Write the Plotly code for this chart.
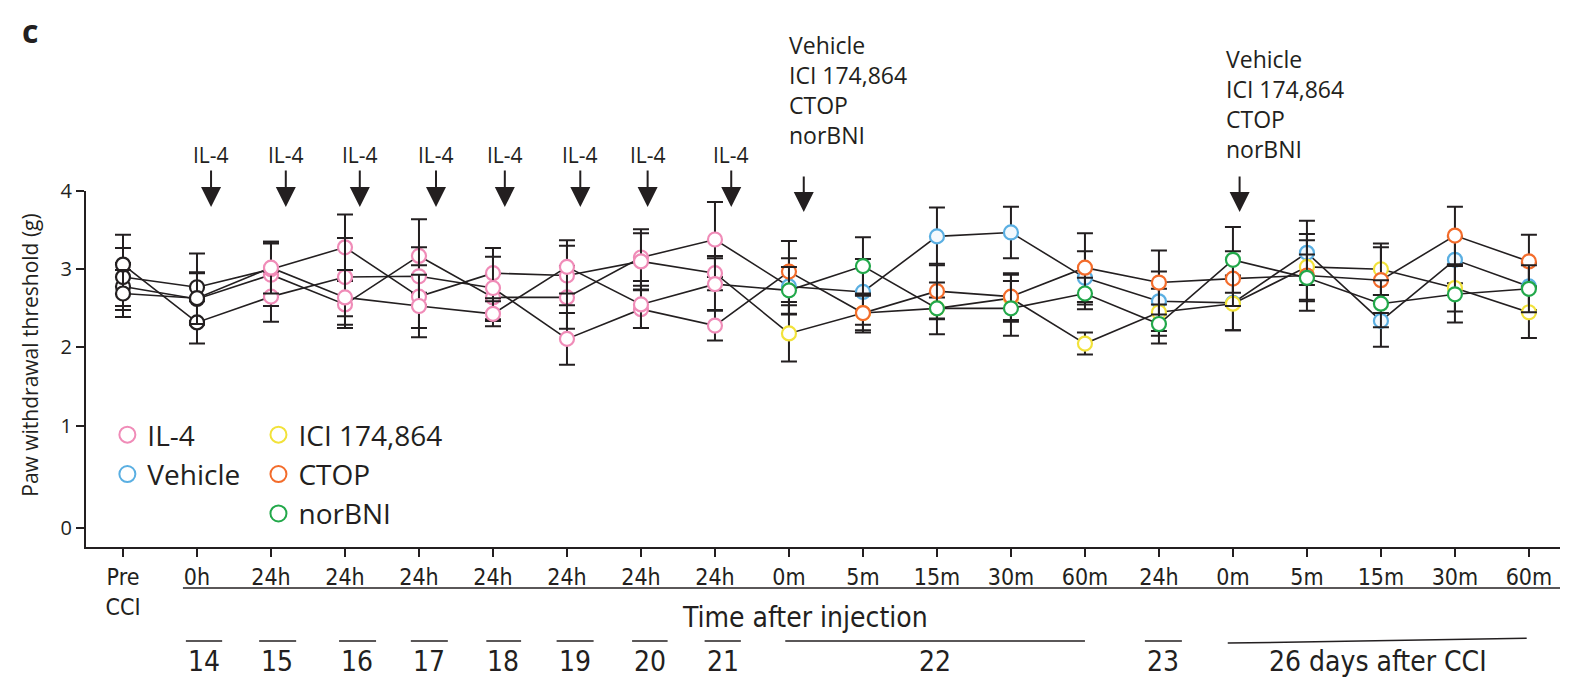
import plotly.graph_objects as go

# ---------------- data ----------------
tick_labels = ["Pre<br>CCI", "0h", "24h", "24h", "24h", "24h", "24h", "24h", "24h",
               "0m", "5m", "15m", "30m", "60m", "24h", "0m", "5m", "15m", "30m", "60m"]
# phase of each time point: baseline (black), IL-4 treatment (pink), antagonist groups (own colour)
phase = ["base", "base", "il4", "il4", "il4", "il4", "il4", "il4", "il4",
         "grp", "grp", "grp", "grp", "grp", "grp", "grp", "grp", "grp", "grp", "grp"]

vehicle = [2.78, 2.62, 2.93, 2.55, 3.17, 2.64, 2.64, 3.15, 3.38, 2.78, 2.71, 3.42, 3.47, 2.89, 2.59, 2.57, 3.21, 2.34, 3.12, 2.78]
vehicle_err = [0.30, 0.33, 0.40, 0.30, 0.47, 0.30, 0.40, 0.36, 0.48, 0.36, 0.42, 0.37, 0.33, 0.34, 0.38, 0.35, 0.41, 0.33, 0.30, 0.30]
ici = [2.90, 2.77, 3.00, 3.28, 2.65, 2.95, 2.92, 3.10, 2.95, 2.18, 2.44, 2.50, 2.63, 2.05, 2.45, 2.56, 3.03, 3.00, 2.76, 2.45]
ici_err = [0.37, 0.43, 0.35, 0.42, 0.40, 0.32, 0.38, 0.36, 0.22, 0.36, 0.22, 0.14, 0.30, 0.14, 0.30, 0.34, 0.42, 0.33, 0.30, 0.33]
ctop = [3.06, 2.32, 2.65, 2.90, 2.91, 2.76, 2.11, 2.49, 2.28, 2.97, 2.44, 2.72, 2.65, 3.02, 2.83, 2.88, 2.92, 2.86, 3.43, 3.10]
ctop_err = [0.38, 0.27, 0.32, 0.50, 0.37, 0.40, 0.33, 0.24, 0.19, 0.39, 0.25, 0.35, 0.30, 0.44, 0.41, 0.35, 0.45, 0.42, 0.37, 0.34]
norbni = [2.69, 2.63, 3.02, 2.64, 2.53, 2.43, 3.03, 2.55, 2.81, 2.73, 3.04, 2.50, 2.50, 2.69, 2.30, 3.12, 2.89, 2.56, 2.68, 2.75]
norbni_err = [0.30, 0.33, 0.33, 0.35, 0.40, 0.16, 0.34, 0.30, 0.33, 0.30, 0.37, 0.33, 0.35, 0.20, 0.25, 0.42, 0.30, 0.30, 0.36, 0.30]

y_tick_vals = [-0.31, 1, 2, 3, 4]      # axis is compressed below 1 in the original
y_tick_text = ["0", "1", "2", "3", "4"]

il4_arrow_x = [1.19, 2.20, 3.20, 4.23, 5.16, 6.18, 7.09, 8.22]
drug_arrow_x = [9.2, 15.09]
drug_text = "Vehicle<br>ICI 174,864<br>CTOP<br>norBNI"

day_labels = ["14", "15", "16", "17", "18", "19", "20", "21", "22", "23", "26 days after CCI"]
day_label_x = [1.09, 2.08, 3.16, 4.14, 5.14, 6.11, 7.12, 8.11, 10.97, 14.05, 16.96]
day_line_x0 = [0.85, 1.84, 2.92, 3.89, 4.91, 5.86, 6.88, 7.86, 8.95, 13.81, 14.93]
day_line_x1 = [1.34, 2.34, 3.42, 4.39, 5.38, 6.36, 7.36, 8.35, 13.0, 14.31, 18.97]

# ---------------- style ----------------
BLACK = "#231f20"
PINK = "#f08cb8"
COLORS = {"Vehicle": "#5aafe2", "ICI 174,864": "#f2e23a", "CTOP": "#f36c2b", "norBNI": "#22a84a"}
FILLS = {"Vehicle": "#f4f9fd", "ICI 174,864": "white", "CTOP": "white", "norBNI": "white"}
NARROW = "Liberation Sans Narrow, DejaVu Sans Condensed, Open Sans, sans-serif"
SANS = "Open Sans, Noto Sans, sans-serif"

x = list(range(len(tick_labels)))
fig = go.Figure()

series = [("Vehicle", vehicle, vehicle_err), ("ICI 174,864", ici, ici_err),
          ("CTOP", ctop, ctop_err), ("norBNI", norbni, norbni_err)]
for name, vals, errs in series:
    cols = [BLACK if p == "base" else PINK if p == "il4" else COLORS[name] for p in phase]
    fills = ["white" if p != "grp" else FILLS[name] for p in phase]
    fig.add_trace(go.Scatter(
        x=x, y=vals, mode="lines+markers", showlegend=False,
        line=dict(color=BLACK, width=1.6),
        marker=dict(size=14, color=fills, line=dict(color=cols, width=2.2)),
        error_y=dict(type="data", array=errs, visible=True, color=BLACK, thickness=2, width=8),
    ))

# legend entries
leg1 = [("IL-4", PINK, "white"), ("Vehicle", COLORS["Vehicle"], "white")]
leg2 = [("ICI 174,864", COLORS["ICI 174,864"], "white"), ("CTOP", COLORS["CTOP"], "white"),
        ("norBNI", COLORS["norBNI"], "white")]
for name, c, f in leg1:
    fig.add_trace(go.Scatter(x=[None], y=[None], mode="markers", name=name, legend="legend",
                             marker=dict(size=16, color=f, line=dict(color=c, width=2))))
for name, c, f in leg2:
    fig.add_trace(go.Scatter(x=[None], y=[None], mode="markers", name=name, legend="legend2",
                             marker=dict(size=16, color=f, line=dict(color=c, width=2))))

annotations = []
for ax_ in il4_arrow_x:
    annotations.append(dict(x=ax_, y=0.955, xref="x", yref="paper", text="IL-4",
                            showarrow=True, ax=0, ay=-52, arrowhead=2, arrowsize=2, arrowwidth=2,
                            arrowcolor=BLACK, font=dict(family=SANS, size=21, color=BLACK)))
for ax_ in drug_arrow_x:
    annotations.append(dict(x=ax_, y=0.941, xref="x", yref="paper", text="",
                            showarrow=True, ax=0, ay=-37, arrowhead=2, arrowsize=2, arrowwidth=2,
                            arrowcolor=BLACK))
annotations.append(dict(x=8.97, y=1.284, xref="x", yref="paper", text=drug_text, showarrow=False,
                        xanchor="left", yanchor="middle", align="left",
                        font=dict(family=SANS, size=23, color=BLACK)))
annotations.append(dict(x=14.88, y=1.244, xref="x", yref="paper", text=drug_text, showarrow=False,
                        xanchor="left", yanchor="middle", align="left",
                        font=dict(family=SANS, size=23, color=BLACK)))
annotations.append(dict(x=9.22, y=-0.197, xref="x", yref="paper", text="Time after injection",
                        showarrow=False, xanchor="center", yanchor="middle",
                        font=dict(family=NARROW, size=28, color=BLACK)))
for lab, lx in zip(day_labels, day_label_x):
    annotations.append(dict(x=lx, y=-0.323, xref="x", yref="paper", text=lab, showarrow=False,
                            xanchor="center", yanchor="middle",
                            font=dict(family=NARROW, size=28, color=BLACK)))
annotations.append(dict(x=-0.038, y=0.54, xref="paper", yref="paper",
                        text="Paw withdrawal threshold (g)", textangle=-90, showarrow=False,
                        xanchor="center", yanchor="middle",
                        font=dict(family=SANS, size=21, color=BLACK)))
annotations.append(dict(x=-0.038, y=1.45, xref="paper", yref="paper", text="<b>c</b>",
                        showarrow=False, xanchor="center", yanchor="middle",
                        font=dict(family=SANS, size=32, color=BLACK)))

shapes = [dict(type="line", xref="x", yref="paper", x0=0.81, x1=19.42, y0=-0.115, y1=-0.115,
               line=dict(color=BLACK, width=1.5))]
for i, (a, b) in enumerate(zip(day_line_x0, day_line_x1)):
    last = i == len(day_line_x0) - 1
    shapes.append(dict(type="line", xref="x", yref="paper", x0=a, x1=b,
                       y0=-0.27 if last else -0.264, y1=-0.256 if last else -0.264,
                       line=dict(color=BLACK, width=1.5)))

# the page places the figure 8 px in from the top-left corner
fig.update_layout(
    width=1565, height=673,
    margin=dict(l=78, r=13, t=183, b=134),
    paper_bgcolor="white", plot_bgcolor="white",
    xaxis=dict(range=[-0.5, 19.42], tickvals=x, ticktext=tick_labels, showgrid=False, zeroline=False,
               showline=True, linecolor=BLACK, linewidth=2, ticks="outside", ticklen=8, tickwidth=1.5,
               tickcolor=BLACK, tickfont=dict(family=NARROW, size=23, color=BLACK)),
    yaxis=dict(range=[-0.55, 4.0], tickvals=y_tick_vals, ticktext=y_tick_text, showgrid=False,
               zeroline=False, showline=True, linecolor=BLACK, linewidth=2, ticks="outside",
               ticklen=8, tickwidth=1.5, tickcolor=BLACK,
               tickfont=dict(family=SANS, size=20, color=BLACK)),
    legend=dict(x=0.0145, y=0.385, xanchor="left", yanchor="top", bgcolor="rgba(0,0,0,0)",
                font=dict(family=SANS, size=28, color=BLACK), itemsizing="trace"),
    legend2=dict(x=0.117, y=0.385, xanchor="left", yanchor="top", bgcolor="rgba(0,0,0,0)",
                 font=dict(family=SANS, size=28, color=BLACK), itemsizing="trace"),
    annotations=annotations, shapes=shapes,
)

fig.write_html("out.html")
